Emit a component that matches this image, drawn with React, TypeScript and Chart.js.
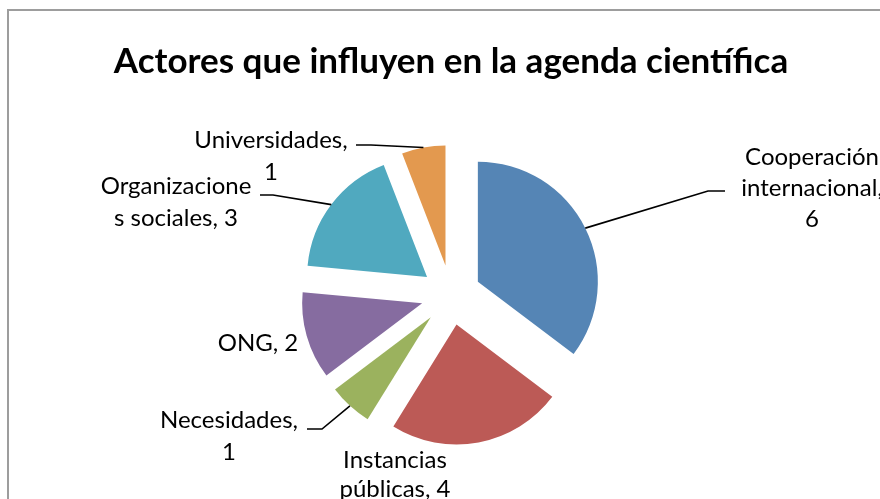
import React, { useEffect, useRef } from 'react';
import { Chart, registerables } from 'chart.js';

Chart.register(...registerables);

// ---- Data ----
const chartTitle = 'Actores que influyen en la agenda científica';
const categories = [
  'Cooperación internacional',
  'Instancias públicas',
  'Necesidades',
  'ONG',
  'Organizaciones sociales',
  'Universidades',
];
const values = [6, 4, 1, 2, 3, 1];
// character indices where each data label wraps onto a new line
const labelBreaks = [[11, 26], [10], [12], [], [13], [14]];

// ---- Styles / layout ----
const sliceColors = ['#5585B5', '#BC5A56', '#9BB25E', '#866CA0', '#50A9BF', '#E3994F'];
const FONT = 'Lato, "Liberation Sans", sans-serif';
const EXPLODE = 30;
const RADIUS = 120;
// label centre (x, first line y), line height, optional leader (start at label side, knee)
const labelLayout = [
  { x: 812, y: 157, lh: 31, leader: { sx: 725, sy: 191, kx: 708, ky: 191 } },
  { x: 395, y: 460, lh: 29, leader: null },
  { x: 229, y: 420, lh: 32, leader: { sx: 307, sy: 429, kx: 322, ky: 429 } },
  { x: 258, y: 343, lh: 32, leader: null },
  { x: 176, y: 186, lh: 32, leader: { sx: 260, sy: 195, kx: 273, ky: 195 } },
  { x: 271, y: 140, lh: 32, leader: { sx: 356, sy: 145, kx: 371, ky: 145 } },
];

function wrapLabel(text: string, breaks: number[]): string[] {
  const out: string[] = [];
  let prev = 0;
  for (const b of breaks) {
    out.push(text.slice(prev, b).trim());
    prev = b;
  }
  out.push(text.slice(prev).trim());
  return out.filter((s) => s.length > 0);
}

const borderPlugin = {
  id: 'chartBorder',
  beforeDraw(chart: any) {
    const ctx = chart.ctx;
    ctx.save();
    ctx.strokeStyle = '#9d9d9d';
    ctx.lineWidth = 2;
    ctx.strokeRect(8, 10, 1200, 1200);
    ctx.restore();
  },
};

const explodePlugin = {
  id: 'explodeSlices',
  beforeDatasetDraw(chart: any, args: any) {
    const ctx = chart.ctx;
    args.meta.data.forEach((arc: any) => {
      const mid = (arc.startAngle + arc.endAngle) / 2;
      ctx.save();
      ctx.translate(Math.cos(mid) * EXPLODE, Math.sin(mid) * EXPLODE);
      arc.draw(ctx);
      ctx.restore();
    });
    return false;
  },
};

const labelPlugin = {
  id: 'sliceLabels',
  afterDraw(chart: any) {
    const ctx = chart.ctx;
    const meta = chart.getDatasetMeta(0);
    ctx.save();
    meta.data.forEach((arc: any, i: number) => {
      const L = labelLayout[i];
      const mid = (arc.startAngle + arc.endAngle) / 2;
      const r = arc.outerRadius + EXPLODE;
      const ax = arc.x + Math.cos(mid) * r;
      const ay = arc.y + Math.sin(mid) * r;
      if (L.leader) {
        ctx.beginPath();
        ctx.strokeStyle = '#000';
        ctx.lineWidth = 1.6;
        ctx.moveTo(L.leader.sx, L.leader.sy);
        ctx.lineTo(L.leader.kx, L.leader.ky);
        ctx.lineTo(ax, ay);
        ctx.stroke();
      }
      const lines = wrapLabel(`${categories[i]}, ${values[i]}`, labelBreaks[i]);
      ctx.fillStyle = '#000';
      ctx.font = `24px ${FONT}`;
      ctx.textAlign = 'center';
      ctx.textBaseline = 'middle';
      lines.forEach((t, k) => ctx.fillText(t, L.x, L.y + k * L.lh));
    });
    ctx.restore();
  },
};

export default function App() {
  const ref = useRef<HTMLCanvasElement>(null);
  useEffect(() => {
    if (!ref.current) return;
    const chart = new Chart(ref.current, {
      type: 'pie',
      data: {
        labels: categories,
        datasets: [
          {
            data: values,
            backgroundColor: sliceColors,
            borderWidth: 0,
          },
        ],
      },
      options: {
        responsive: false,
        animation: false,
        radius: RADIUS,
        layout: { padding: { left: 22, right: 0, top: 0, bottom: 39 } },
        plugins: {
          legend: { display: false },
          tooltip: { enabled: false },
          title: {
            display: true,
            text: chartTitle,
            color: '#000',
            font: { family: FONT, size: 35, weight: 'bold', lineHeight: 1.2 },
            padding: { top: 41, bottom: 47 },
          },
        },
      } as any,
      plugins: [borderPlugin, explodePlugin, labelPlugin],
    });
    return () => chart.destroy();
  }, []);
  return (
    <div style={{ position: 'fixed', left: 0, top: 0, width: 880, height: 499, background: '#fff' }}>
      <canvas ref={ref} width={880} height={499} style={{ display: 'block', width: 880, height: 499 }} />
    </div>
  );
}
